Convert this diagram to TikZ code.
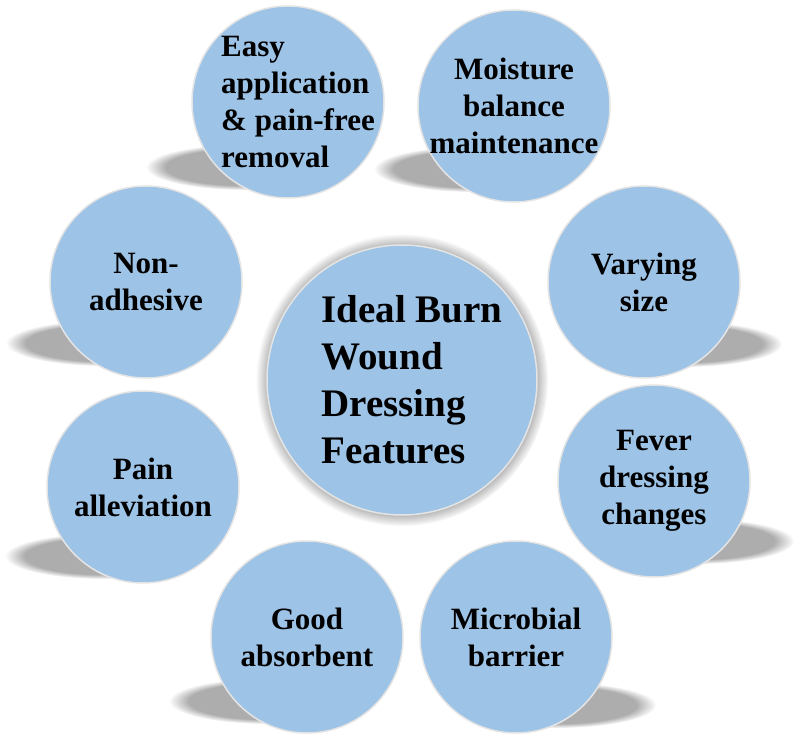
\documentclass[tikz,border=0pt]{standalone}
\usepackage{fontspec}
\setmainfont{Liberation Serif}
\definecolor{bubbleblue}{HTML}{9DC3E6}
\definecolor{bubbleedge}{HTML}{E4E4E4}
\usetikzlibrary{fadings,backgrounds}

\begin{document}
\begin{tikzpicture}[
  x=1pt, y=-1pt,
  bubble/.style={circle, draw=bubbleedge, line width=1.5pt, fill=bubbleblue,
                 minimum size=192pt, inner sep=0pt},
  hub/.style={bubble, minimum size=270pt},
  btext/.style={font=\fontsize{31}{37}\selectfont\bfseries, align=center, inner sep=0pt},
  htext/.style={font=\fontsize{39}{47}\selectfont\bfseries, align=left, inner sep=0pt},
  shad/.style={fill=black, opacity=0.32, path fading=circle with fuzzy edge 20 percent},
  halo/.style={fill=black, opacity=0.35, path fading=circle with fuzzy edge 10 percent},
]
  \useasboundingbox (0,0) rectangle (800,743);

  % circles
  \node[hub]    (hub)    at (402,380) {};
  \node[bubble] (easy)   at (288,102) {};
  \node[bubble] (moist)  at (514,106) {};
  \node[bubble] (vary)   at (644,282) {};
  \node[bubble] (fever)  at (654,481) {};
  \node[bubble] (micro)  at (516,637) {};
  \node[bubble] (good)   at (307,637) {};
  \node[bubble] (pain)   at (143,487) {};
  \node[bubble] (nonadh) at (146,282) {};

  % texts
  \node[htext] (hubtxt) at (412,380) {Ideal Burn\\Wound\\Dressing\\Features};
  \node[btext,align=left] (easytxt) at (298,102) {Easy\\application\\\& pain-free\\removal};
  \node[btext] (moisttxt)  at (moist)  {Moisture\\balance\\maintenance};
  \node[btext] (varytxt)   at (vary)   {Varying\\size};
  \node[btext] (fevertxt)  at (fever)  {Fever\\dressing\\changes};
  \node[btext] (microtxt)  at (micro)  {Microbial\\barrier};
  \node[btext] (goodtxt)   at (good)   {Good\\absorbent};
  \node[btext] (paintxt)   at (pain)   {Pain\\alleviation};
  \node[btext] (nonadhtxt) at (nonadh) {Non-\\adhesive};

  % shadows
  \begin{scope}[on background layer]
    \fill[halo] (hub.center) circle [radius=146pt];
    \fill[shad] ([shift={(-42,65)}]easy.center)   ellipse [x radius=100pt, y radius=23pt];
    \fill[shad] ([shift={(-40,63)}]moist.center)  ellipse [x radius=100pt, y radius=23pt];
    \fill[shad] ([shift={(38,62)}]vary.center)    ellipse [x radius=100pt, y radius=23pt];
    \fill[shad] ([shift={(40,60)}]fever.center)   ellipse [x radius=100pt, y radius=23pt];
    \fill[shad] ([shift={(40,68)}]micro.center)   ellipse [x radius=100pt, y radius=23pt];
    \fill[shad] ([shift={(-38,64)}]good.center)   ellipse [x radius=100pt, y radius=23pt];
    \fill[shad] ([shift={(-38,69)}]pain.center)   ellipse [x radius=100pt, y radius=23pt];
    \fill[shad] ([shift={(-40,61)}]nonadh.center) ellipse [x radius=100pt, y radius=23pt];
  \end{scope}
\end{tikzpicture}
\end{document}
